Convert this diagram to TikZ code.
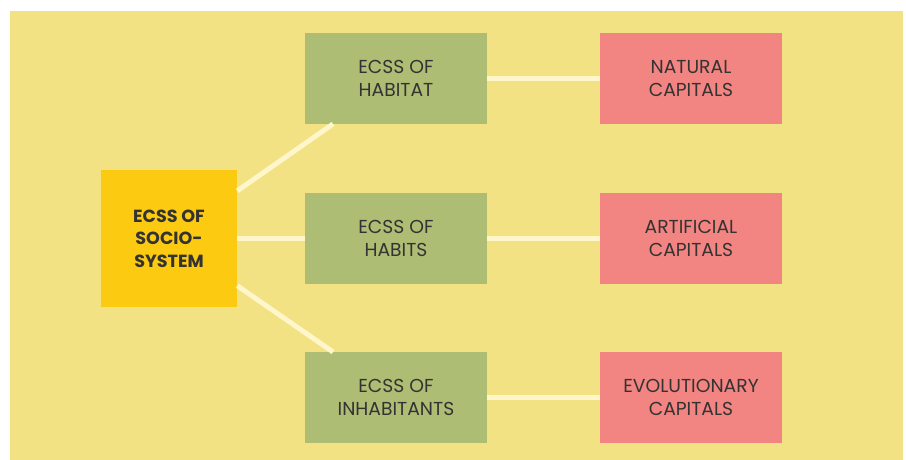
\documentclass[tikz,border=0pt]{standalone}
\usepackage{fontspec}
\setmainfont{Poppins}
\definecolor{bgyellow}{HTML}{F3E283}
\definecolor{sociogold}{HTML}{FCCA10}
\definecolor{habgreen}{HTML}{ADBD74}
\definecolor{capred}{HTML}{F28482}
\definecolor{linkcream}{HTML}{FFF6CC}
\definecolor{inkgray}{HTML}{333333}
\begin{document}
\begin{tikzpicture}[
        box/.style={shape=rectangle,inner sep=0pt,align=center,text=inkgray,font=\fontsize{16}{19.6}\selectfont},
        ecss/.style={box,fill=habgreen,minimum width=5.46cm,minimum height=2.73cm},
        capital/.style={box,fill=capred,minimum width=5.46cm,minimum height=2.73cm},
        link/.style={draw=linkcream,line width=4.2pt}]
        \useasboundingbox (0,0) rectangle (27.18,-13.8);
        \fill[bgyellow] (0.3,-0.33) rectangle (27.09,-13.8);

        \node[box,fill=sociogold,minimum width=4.08cm,minimum height=4.11cm,font=\bfseries\fontsize{15}{19.2}\selectfont] (socio) at (5.07,-7.155) {ECSS OF\\SOCIO-\\SYSTEM};
        \node[ecss] (habitat) at (11.88,-2.355) {ECSS OF\\HABITAT};
        \node[ecss] (habits) at (11.88,-7.155) {ECSS OF\\HABITS};
        \node[ecss] (inhabitants) at (11.88,-11.925) {ECSS OF\\INHABITANTS};
        \node[capital] (natural) at (20.73,-2.355) {NATURAL\\CAPITALS};
        \node[capital] (artificial) at (20.73,-7.155) {ARTIFICIAL\\CAPITALS};
        \node[capital] (evolutionary) at (20.73,-11.925) {EVOLUTIONARY\\CAPITALS};
        \coordinate (habitat-foot) at (9.99,-3.72);
        \coordinate (inhabitants-top) at (9.99,-10.56);

        \path[link]
        (socio) edge (habitat-foot)
        (socio) edge (habits)
        (socio) edge (inhabitants-top)
        (habitat) edge (natural)
        (habits) edge (artificial)
        (inhabitants) edge (evolutionary)
        ;
\end{tikzpicture}
\end{document}
